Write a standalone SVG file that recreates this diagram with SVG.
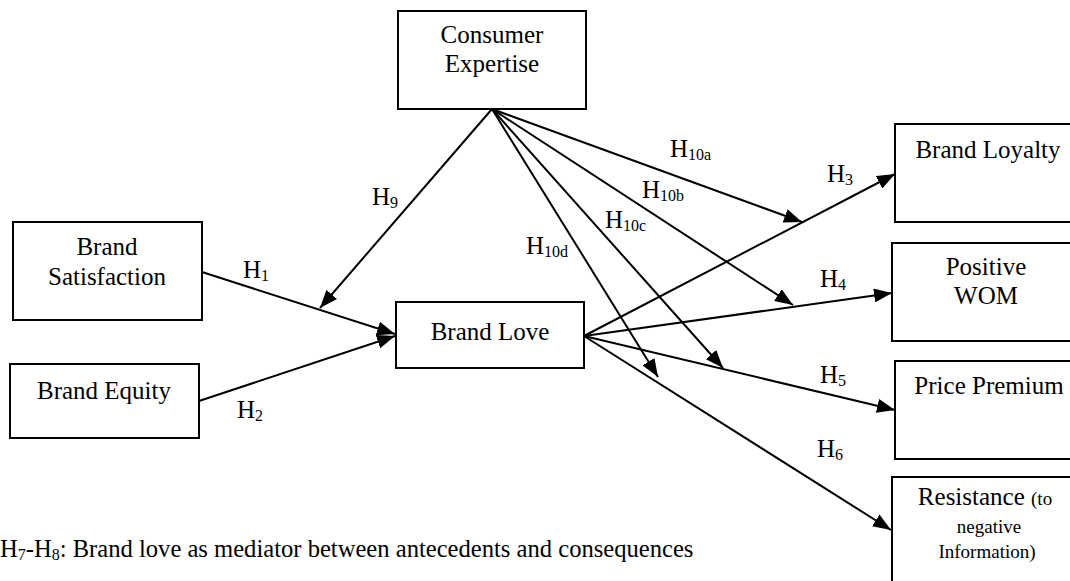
<svg xmlns="http://www.w3.org/2000/svg" width="1070" height="581" viewBox="0 0 1070 581">
<style>
.box{fill:#fff;stroke:#000;stroke-width:2}
.t{font-family:'Liberation Serif','Times New Roman',Times,'DejaVu Serif',serif;font-size:25px;fill:#000}
.m{text-anchor:middle}
.s{font-size:16px}
.sm{font-size:19px}
.cap{font-size:24.6px}
.ln{stroke:#000;stroke-width:2;fill:none;marker-end:url(#ah)}
</style>
<defs>
<marker id="ah" markerUnits="userSpaceOnUse" markerWidth="20" markerHeight="14" refX="18" refY="7" orient="auto">
<path d="M0,0 L18,7 L0,14 z" fill="#000"/>
</marker>
</defs>
<rect width="1070" height="581" fill="#fff"/>
<g id="connectors">
<path class="ln" d="M492,109 L320,308"/>
<path class="ln" d="M492,109 L802,222"/>
<path class="ln" d="M492,109 L793,305"/>
<path class="ln" d="M492,109 L723,368"/>
<path class="ln" d="M492,109 L658,377"/>
<path class="ln" d="M202,272 L395,334"/>
<path class="ln" d="M199,401 L395,336"/>
<path class="ln" d="M584,336 L895,174"/>
<path class="ln" d="M584,336 L892,293"/>
<path class="ln" d="M584,336 L895,410"/>
<path class="ln" d="M584,336 L891,530"/>
</g>
<g id="labels">
<text class="t" x="372" y="205">H<tspan class="s" dy="3">9</tspan></text>
<text class="t" x="670" y="157">H<tspan class="s" dy="3">10a</tspan></text>
<text class="t" x="642" y="198">H<tspan class="s" dy="3">10b</tspan></text>
<text class="t" x="605" y="228">H<tspan class="s" dy="3">10c</tspan></text>
<text class="t" x="526" y="254">H<tspan class="s" dy="3">10d</tspan></text>
<text class="t" x="243" y="278">H<tspan class="s" dy="3">1</tspan></text>
<text class="t" x="237" y="418">H<tspan class="s" dy="3">2</tspan></text>
<text class="t" x="827" y="182">H<tspan class="s" dy="3">3</tspan></text>
<text class="t" x="820" y="287">H<tspan class="s" dy="3">4</tspan></text>
<text class="t" x="820" y="383">H<tspan class="s" dy="3">5</tspan></text>
<text class="t" x="817" y="457">H<tspan class="s" dy="3">6</tspan></text>
</g>
<g id="consumer-expertise">
<rect class="box" x="398" y="11" width="188" height="98"/>
<text class="t m" x="492" y="43">Consumer</text>
<text class="t m" x="492" y="72">Expertise</text>
</g>
<g id="brand-satisfaction">
<rect class="box" x="13" y="222" width="189" height="98"/>
<text class="t m" x="107" y="255">Brand</text>
<text class="t m" x="107" y="285">Satisfaction</text>
</g>
<g id="brand-equity">
<rect class="box" x="10" y="364" width="189" height="74"/>
<text class="t m" x="104" y="399">Brand Equity</text>
</g>
<g id="brand-love">
<rect class="box" x="396" y="302" width="188" height="66"/>
<text class="t m" x="490" y="340">Brand Love</text>
</g>
<g id="brand-loyalty">
<rect class="box" x="895" y="124" width="190" height="98"/>
<text class="t m" x="988" y="158">Brand Loyalty</text>
</g>
<g id="positive-wom">
<rect class="box" x="892" y="243" width="190" height="98"/>
<text class="t m" x="986" y="275">Positive</text>
<text class="t m" x="986" y="304">WOM</text>
</g>
<g id="price-premium">
<rect class="box" x="895" y="361" width="190" height="98"/>
<text class="t m" x="989" y="394">Price Premium</text>
</g>
<g id="resistance">
<rect class="box" x="892" y="477" width="190" height="110"/>
<text class="t m" x="985" y="505">Resistance <tspan class="sm">(to</tspan></text>
<text class="t m sm" x="989" y="533">negative</text>
<text class="t m sm" x="987" y="558">Information)</text>
</g>
<g id="caption">
<text class="t cap" x="0" y="557">H<tspan class="s" dy="3">7</tspan><tspan dy="-3">-H</tspan><tspan class="s" dy="3">8</tspan><tspan dy="-3">: Brand love as mediator between antecedents and consequences</tspan></text>
</g>
</svg>
